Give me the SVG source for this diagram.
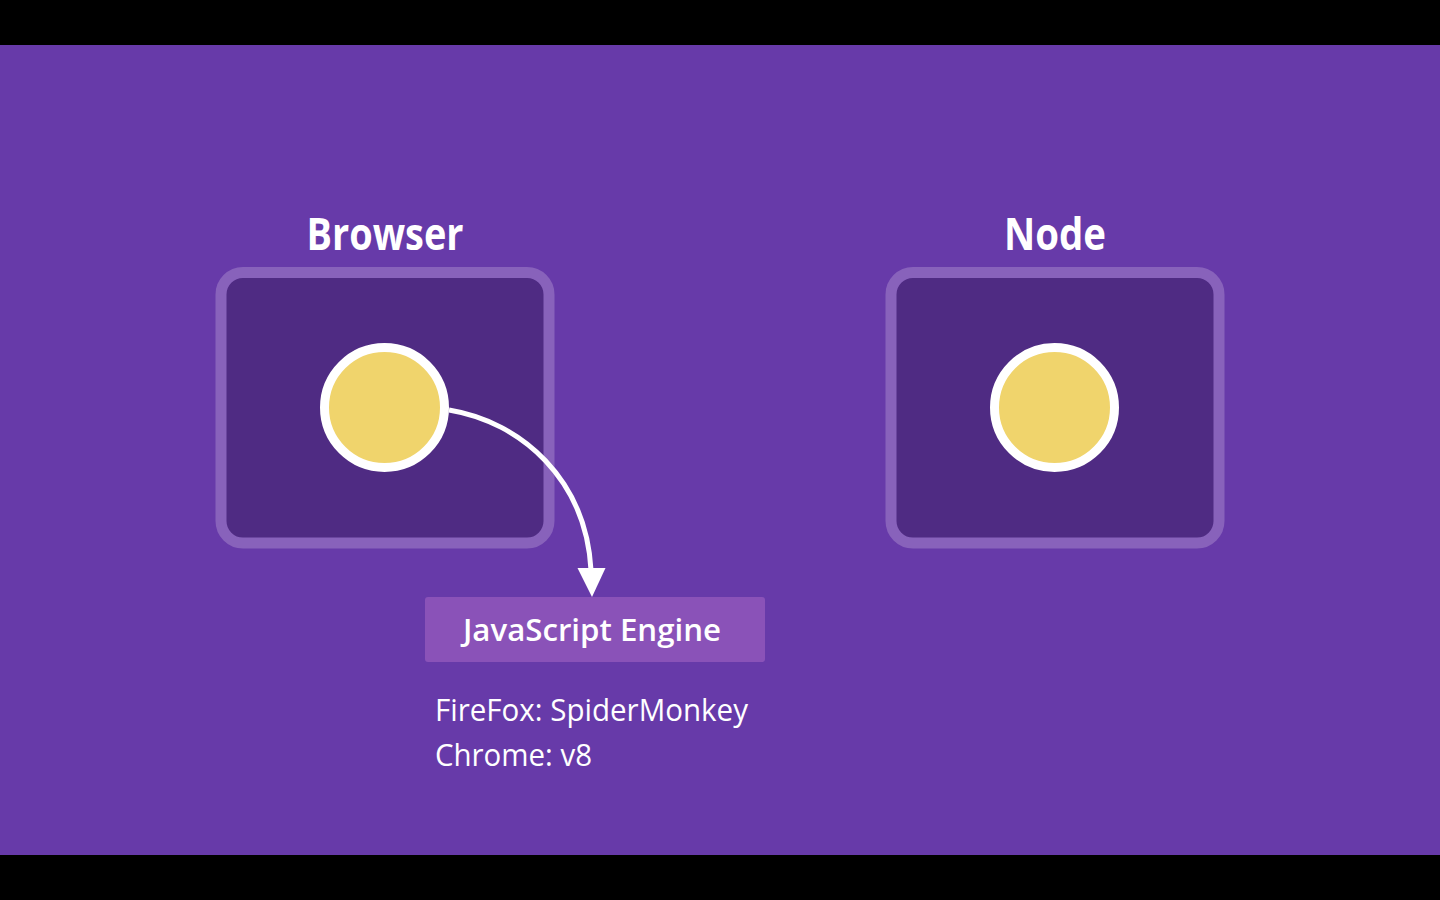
<svg xmlns="http://www.w3.org/2000/svg" width="1440" height="900" viewBox="0 0 1440 900">
<defs>
<style>
.bar{fill:#000}
.frame{fill:#4F2B83;stroke:#8862BB;stroke-width:11}
.dot{fill:#F0D46C;stroke:#FFFFFF;stroke-width:9}
.title{font-family:"Open Sans","Liberation Sans",sans-serif;font-weight:700;font-size:44px;fill:#FFFFFF;text-anchor:middle}
.label{font-family:"Open Sans","Liberation Sans",sans-serif;font-size:31px;fill:#FFFFFF}
.conn{fill:none;stroke:#FFFFFF;stroke-width:5}
</style>
</defs>
<rect x="0" y="0" width="1440" height="900" fill="#673AA9"/>
<rect class="bar" x="0" y="0" width="1440" height="45"/>
<rect class="bar" x="0" y="855" width="1440" height="45"/>

<g id="browser">
<text class="title" x="385" y="250" textLength="157" lengthAdjust="spacingAndGlyphs">Browser</text>
<rect class="frame" x="221" y="272.5" width="328" height="270.5" rx="22"/>
<circle class="dot" cx="384.5" cy="407.5" r="60"/>
</g>

<g id="node">
<text class="title" x="1055" y="250" textLength="102" lengthAdjust="spacingAndGlyphs">Node</text>
<rect class="frame" x="891" y="272.5" width="328" height="270.5" rx="22"/>
<circle class="dot" cx="1054.5" cy="407.5" r="60"/>
</g>

<g id="engine">
<rect x="425" y="597" width="340" height="65" rx="3" fill="#8A52B8"/>
<text class="label" x="592" y="641" text-anchor="middle" font-weight="600" textLength="258" lengthAdjust="spacingAndGlyphs">JavaScript Engine</text>
</g>

<g id="engines-list">
<text class="label" x="435" y="721" textLength="313" lengthAdjust="spacingAndGlyphs">FireFox: SpiderMonkey</text>
<text class="label" x="435" y="766" textLength="157" lengthAdjust="spacingAndGlyphs">Chrome: v8</text>
</g>

<g id="connectors">
<path class="conn" d="M449,410 C522,422 586,480 591,570"/>
<polygon points="577.5,568 605.5,568 592,597" fill="#FFFFFF"/>
</g>
</svg>
